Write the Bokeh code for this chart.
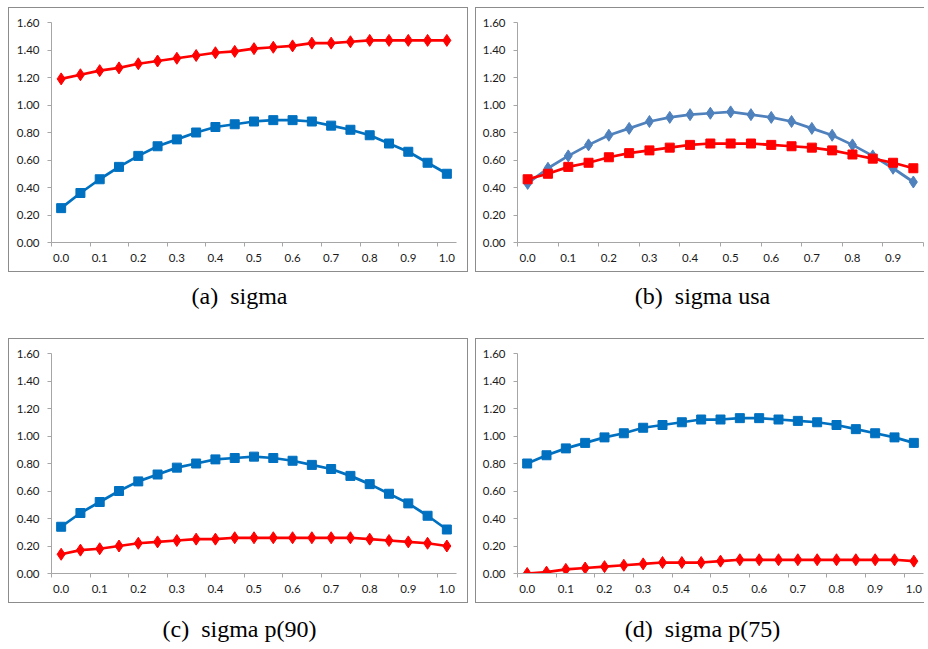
from bokeh.plotting import figure
from bokeh.layouts import column, row
from bokeh.models import Range1d, FixedTicker, LinearAxis, NumeralTickFormatter, Label
from bokeh.embed import file_html
from bokeh.resources import INLINE

# ---- data ----
cats_21 = [0.0, 0.05, 0.1, 0.15, 0.2, 0.25, 0.3, 0.35, 0.4, 0.45, 0.5,
           0.55, 0.6, 0.65, 0.7, 0.75, 0.8, 0.85, 0.9, 0.95, 1.0]
cats_20 = cats_21[:20]
x_tick_labels = ["0.0", "0.1", "0.2", "0.3", "0.4", "0.5", "0.6", "0.7", "0.8", "0.9", "1.0"]
y_ticks = [0.0, 0.2, 0.4, 0.6, 0.8, 1.0, 1.2, 1.4, 1.6]

a_red = [1.19, 1.22, 1.25, 1.27, 1.30, 1.32, 1.34, 1.36, 1.38, 1.39, 1.41,
         1.42, 1.43, 1.45, 1.45, 1.46, 1.47, 1.47, 1.47, 1.47, 1.47]
a_blue = [0.25, 0.36, 0.46, 0.55, 0.63, 0.70, 0.75, 0.80, 0.84, 0.86, 0.88,
          0.89, 0.89, 0.88, 0.85, 0.82, 0.78, 0.72, 0.66, 0.58, 0.50]

b_blue = [0.43, 0.54, 0.63, 0.71, 0.78, 0.83, 0.88, 0.91, 0.93, 0.94, 0.95,
          0.93, 0.91, 0.88, 0.83, 0.78, 0.71, 0.63, 0.54, 0.44]
b_red = [0.46, 0.50, 0.55, 0.58, 0.62, 0.65, 0.67, 0.69, 0.71, 0.72, 0.72,
         0.72, 0.71, 0.70, 0.69, 0.67, 0.64, 0.61, 0.58, 0.54]

c_blue = [0.34, 0.44, 0.52, 0.60, 0.67, 0.72, 0.77, 0.80, 0.83, 0.84, 0.85,
          0.84, 0.82, 0.79, 0.76, 0.71, 0.65, 0.58, 0.51, 0.42, 0.32]
c_red = [0.14, 0.17, 0.18, 0.20, 0.22, 0.23, 0.24, 0.25, 0.25, 0.26, 0.26,
         0.26, 0.26, 0.26, 0.26, 0.26, 0.25, 0.24, 0.23, 0.22, 0.20]

d_blue = [0.80, 0.86, 0.91, 0.95, 0.99, 1.02, 1.06, 1.08, 1.10, 1.12, 1.12,
          1.13, 1.13, 1.12, 1.11, 1.10, 1.08, 1.05, 1.02, 0.99, 0.95]
d_red = [0.00, 0.01, 0.03, 0.04, 0.05, 0.06, 0.07, 0.08, 0.08, 0.08, 0.09,
         0.10, 0.10, 0.10, 0.10, 0.10, 0.10, 0.10, 0.10, 0.10, 0.09]

captions = ["(a)\u00a0\u00a0sigma", "(b)\u00a0\u00a0sigma usa",
            "(c)\u00a0\u00a0sigma p(90)", "(d)\u00a0\u00a0sigma p(75)"]

BLUE = "#0070C0"
STEEL = "#4F81BD"
RED = "#FF0000"
AXIS = "#a6a6a6"
TXT = "#1a1a1a"
FONT = "Lato"
SERIF = "'Liberation Serif', 'Times New Roman', serif"


def panel(cats, series, width, ml, mr, right_border=True):
    n = len(cats)
    xs = list(range(n))
    border = "1px solid #8c8c8c"
    styles = {"border-top": border, "border-bottom": border, "border-left": border}
    if right_border:
        styles["border-right"] = border
    p = figure(width=width, height=265, x_range=Range1d(-0.5, n - 0.5),
               y_range=Range1d(0, 1.6), toolbar_location=None,
               output_backend="svg", x_axis_location=None,
               min_border_left=ml, min_border_right=mr, min_border_top=14,
               min_border_bottom=31, styles=styles)
    p.xgrid.visible = False
    p.ygrid.visible = False
    p.outline_line_color = None

    ya = p.yaxis[0]
    ya.ticker = FixedTicker(ticks=y_ticks)
    ya.formatter = NumeralTickFormatter(format="0.00")
    ya.axis_line_color = AXIS
    ya.major_tick_line_color = AXIS
    ya.major_tick_out = 4
    ya.major_tick_in = 0
    ya.minor_tick_line_color = None
    ya.major_label_text_font = FONT
    ya.major_label_text_font_size = "11.5px"
    ya.major_label_text_color = TXT
    ya.major_label_standoff = 8

    # category axis: labels at every second category, tick marks at boundaries
    lab_pos = list(range(0, n, 2))
    bound_pos = [k - 0.5 for k in range(0, n + 1, 2)]
    overrides = {float(i): x_tick_labels[j] for j, i in enumerate(lab_pos)}
    xa = LinearAxis(ticker=FixedTicker(ticks=lab_pos, minor_ticks=bound_pos),
                    major_label_overrides=overrides,
                    major_tick_line_color=None, major_tick_out=4, major_tick_in=0,
                    minor_tick_line_color=AXIS, minor_tick_out=4, minor_tick_in=0,
                    axis_line_color=AXIS, major_label_standoff=7,
                    major_label_text_font=FONT,
                    major_label_text_font_size="11.5px",
                    major_label_text_color=TXT)
    p.add_layout(xa, "below")

    for vals, color, marker, size in series:
        p.line(xs, vals, line_color=color, line_width=2.75)
        p.scatter(xs, vals, marker=marker, size=size, fill_color=color,
                  line_color=color)
    return p


def caption(text, width, height, ypos):
    c = figure(width=width, height=height, x_range=Range1d(0, 1),
               y_range=Range1d(0, 1), toolbar_location=None,
               output_backend="svg", x_axis_location=None,
               y_axis_location=None, min_border=0)
    c.xgrid.visible = False
    c.ygrid.visible = False
    c.outline_line_color = None
    c.add_layout(Label(x=0.5, y=ypos, text=text, text_align="center",
                       text_baseline="middle", text_font=SERIF,
                       text_font_size="24px", text_color="#000000"))
    return c


pa = panel(cats_21, [(a_red, RED, "diamond", 12), (a_blue, BLUE, "square", 9)], 460, 42, 13)
pb = panel(cats_20, [(b_blue, STEEL, "diamond", 12), (b_red, RED, "square", 9)], 449, 41, 2, right_border=False)
pc = panel(cats_21, [(c_blue, BLUE, "square", 9), (c_red, RED, "diamond", 12)], 460, 42, 13)
pd = panel(cats_21, [(d_blue, BLUE, "square", 9), (d_red, RED, "diamond", 12)], 449, 41, 2, right_border=False)

ca = caption(captions[0], 462, 66, 0.65)
cb = caption(captions[1], 450, 66, 0.65)
cc = caption(captions[2], 462, 41, 0.39)
cd = caption(captions[3], 450, 41, 0.39)

layout = column(row(pa, pb, spacing=7), row(ca, cb, spacing=7),
                row(pc, pd, spacing=7), row(cc, cd, spacing=7), spacing=0,
                margin=(7, 0, 0, 8))

open("out.html", "w").write(file_html(layout, INLINE))
